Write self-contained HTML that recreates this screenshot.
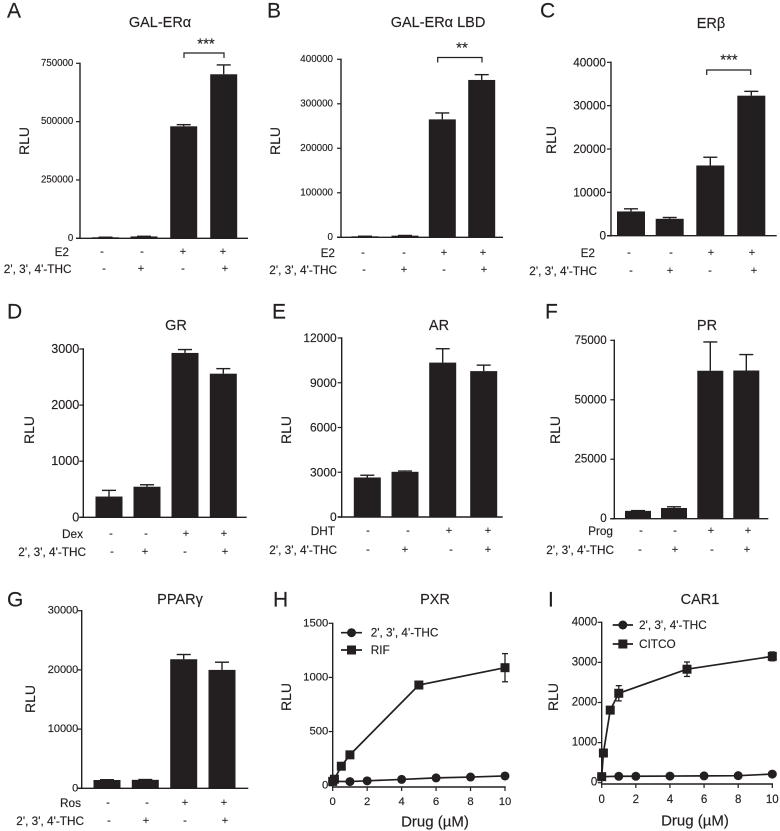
<!DOCTYPE html>
<html>
<head>
<meta charset="utf-8">
<title>Nuclear receptor reporter assays</title>
<style>
html,body{margin:0;padding:0;background:#fff;}
svg{display:block;filter:blur(0.35px);}
text{font-family:"Liberation Sans",sans-serif;fill:#231f20;stroke:#231f20;stroke-width:0.15px;}
</style>
</head>
<body>
<svg id="figure" width="780" height="831" viewBox="0 0 780 831" xmlns="http://www.w3.org/2000/svg"></svg>
<script>
// ---- chart data ----
const groupSigns1 = ['-', '-', '+', '+'];
const groupSigns2 = ['-', '+', '-', '+'];

const aValues = [4300, 8000, 480000, 703000];
const aErrorTops = [4600, 8600, 487000, 743000];
const aTicks = [0, 250000, 500000, 750000];

const bValues = [2200, 3700, 265000, 353600];
const bErrorTops = [2400, 4100, 279400, 365500];
const bTicks = [0, 100000, 200000, 300000, 400000];

const cValues = [5600, 3900, 16200, 32300];
const cErrorTops = [6200, 4200, 18100, 33300];
const cTicks = [0, 10000, 20000, 30000, 40000];

const dValues = [370, 545, 2930, 2560];
const dErrorTops = [480, 580, 2990, 2650];
const dTicks = [0, 1000, 2000, 3000];

const eValues = [2650, 3030, 10350, 9780];
const eErrorTops = [2800, 3080, 11280, 10180];
const eTicks = [0, 3000, 6000, 9000, 12000];

const fValues = [3300, 4500, 62200, 62300];
const fErrorTops = [3400, 5000, 74300, 69000];
const fTicks = [0, 25000, 50000, 75000];

const gValues = [1400, 1430, 21800, 20000];
const gErrorTops = [1450, 1480, 22600, 21300];
const gTicks = [0, 10000, 20000, 30000];

const drugTicks = [0, 2, 4, 6, 8, 10];

const hThcDoses = [0, 1, 2, 4, 6, 8, 10];
const hThcValues = [40, 38, 45, 58, 72, 80, 90];
const hThcErrors = [8, 8, 8, 10, 10, 10, 12];
const hRifDoses = [0, 0.1, 0.5, 1, 5, 10];
const hRifValues = [40, 60, 180, 285, 930, 1090];
const hRifErrors = [10, 10, 15, 30, 25, 130];
const hTicks = [0, 500, 1000, 1500];

const iThcDoses = [0, 1, 2, 4, 6, 8, 10];
const iThcValues = [150, 160, 160, 165, 170, 175, 215];
const iThcErrors = [20, 20, 20, 20, 20, 20, 30];
const iCitcoDoses = [0, 0.1, 0.5, 1, 5, 10];
const iCitcoValues = [150, 740, 1810, 2230, 2830, 3150];
const iCitcoErrors = [20, 40, 60, 190, 180, 110];
const iTicks = [0, 1000, 2000, 3000, 4000];

// ---- helpers ----
const NS = 'http://www.w3.org/2000/svg';
const root = document.getElementById('figure');
function make(tag, attrs, parent, content) {
  const el = document.createElementNS(NS, tag);
  for (const k in attrs) el.setAttribute(k, attrs[k]);
  if (content !== undefined) el.textContent = content;
  parent.appendChild(el);
  return el;
}
function rule(parent, x1, y1, x2, y2, w, name) {
  const el = make('line', {x1: x1, y1: y1, x2: x2, y2: y2, stroke: '#231f20', 'stroke-width': w}, parent);
  
  
  return el;
}
function label(parent, x, y, str, size, anchor, name) {
  const el = make('text', {x: x, y: y, 'font-size': size, 'text-anchor': anchor, 'dominant-baseline': 'central'}, parent, str);
  
  
  return el;
}
function panelFrame(c) {
  const g = make('g', {}, root);
  
  
  label(g, c.letter[0], c.letter[1], c.id.toUpperCase(), 21, 'start', 'panel-letter');
  label(g, c.title[0], c.title[1], c.titleText, 14.5, 'middle', 'panel-title');
  const yl = label(g, 0, 0, 'RLU', 14, 'middle', 'y-axis-title');
  yl.setAttribute('transform', 'translate(' + c.rlu[0] + ',' + c.rlu[1] + ') rotate(-90)');
  return g;
}
function yAxis(g, c, ticks, scale) {
  rule(g, c.axisX, scale(ticks[ticks.length - 1]) - 0.7, c.axisX, c.baseY + 0.7, 1.4, 'y-axis-line');
  ticks.forEach(function (t) {
    rule(g, c.axisX - 4, scale(t), c.axisX, scale(t), 1.2, 'y-tick');
    label(g, c.axisX - c.tickGap, scale(t), String(t), c.tickSize, 'end', 'y-tick-label');
  });
}

function barPanel(c) {
  const g = panelFrame(c);
  const max = c.ticks[c.ticks.length - 1];
  const y = function (v) { return c.baseY - (v / max) * (c.baseY - c.topY); };
  c.values.forEach(function (v, i) {
    const cx = c.centers[i];
    rule(g, cx, y(c.errorTops[i]), cx, y(v), 1.4, 'error-bar');
    rule(g, cx - 7, y(c.errorTops[i]), cx + 7, y(c.errorTops[i]), 1.4, 'error-cap');
    const bar = make('rect', {x: cx - c.barW / 2, y: y(v), width: c.barW, height: c.baseY - y(v), fill: '#231f20'}, g);
    
    
  });
  yAxis(g, c, c.ticks, y);
  rule(g, c.axisX - 4, c.baseY, c.endX, c.baseY, 1.4, 'x-axis-line');
  label(g, c.label1[0], c.row1Y, c.label1[1], 11.8, 'end', 'treatment-label');
  label(g, c.label2, c.row2Y, "2', 3', 4'-THC", 11.8, 'end', 'compound-label');
  groupSigns1.forEach(function (s, i) {
    label(g, c.row1X[i], c.row1Y, s, 11, 'middle', 'treatment-sign');
  });
  groupSigns2.forEach(function (s, i) {
    label(g, c.row2X[i], c.row2Y, s, 11, 'middle', 'compound-sign');
  });
  if (c.sig) {
    const s = c.sig;
    const br = make('path', {d: 'M' + s.x1 + ' ' + s.bottom + 'V' + s.top + 'H' + s.x2 + 'V' + s.bottom, fill: 'none', stroke: '#231f20', 'stroke-width': 1.2}, g);
    
    
    label(g, s.starX, s.starY, s.stars, 15, 'middle', 'significance-stars');
  }
}

function linePanel(c) {
  const g = panelFrame(c);
  const max = c.ticks[c.ticks.length - 1];
  const xMax = drugTicks[drugTicks.length - 1];
  const y = function (v) { return c.baseY - (v / max) * (c.baseY - c.topY); };
  const x = function (v) { return c.axisX + (v / xMax) * (c.x10 - c.axisX); };
  yAxis(g, c, c.ticks, y);
  rule(g, c.axisX - 0.7, c.xAxisY, c.x10 + 0.7, c.xAxisY, 1.4, 'x-axis-line');
  drugTicks.forEach(function (t) {
    rule(g, x(t), c.xAxisY, x(t), c.xAxisY + 4, 1.2, 'x-tick');
    label(g, x(t), c.xTickY, String(t), c.tickSize, 'middle', 'x-tick-label');
  });
  label(g, c.xTitle[0], c.xTitle[1], 'Drug (\u00b5M)', 15, 'middle', 'x-axis-title');
  c.series.forEach(function (s) {
    const sg = make('g', {}, g);
    
    
    const pts = s.doses.map(function (d, i) { return x(d) + ',' + y(s.values[i]); }).join(' ');
    const pl = make('polyline', {points: pts, fill: 'none', stroke: '#231f20', 'stroke-width': 1.7}, sg);
    
    
    s.doses.forEach(function (d, i) {
      const px = x(d), py = y(s.values[i]), e = s.errors[i];
      rule(sg, px, y(s.values[i] + e), px, y(s.values[i] - e), 1.3, 'error-bar');
      rule(sg, px - 3, y(s.values[i] + e), px + 3, y(s.values[i] + e), 1.3, 'error-cap');
      rule(sg, px - 3, y(s.values[i] - e), px + 3, y(s.values[i] - e), 1.3, 'error-cap');
      marker(sg, s.shape, px, py);
    });
  });
  c.legend.forEach(function (l) {
    const lg = make('g', {}, g);
    
    
    rule(lg, c.legendLine[0], l.y, c.legendLine[1], l.y, 1.7, 'legend-line');
    marker(lg, l.shape, (c.legendLine[0] + c.legendLine[1]) / 2, l.y);
    label(lg, c.legendText, l.y, l.text, 11.8, 'start', 'legend-label');
  });
}
function marker(parent, shape, x, y) {
  let el;
  if (shape === 'circle') {
    el = make('circle', {cx: x, cy: y, r: 4.5, fill: '#231f20'}, parent);
  } else {
    el = make('rect', {x: x - 4.5, y: y - 4.5, width: 9, height: 9, fill: '#231f20'}, parent);
  }
  
  
}

// ---- panels ----
barPanel({id: 'a', titleText: 'GAL-ER\u03b1', letter: [7, 11], title: [160, 23], rlu: [24, 141],
  values: aValues, errorTops: aErrorTops, ticks: aTicks, tickSize: 9.7, tickGap: 6.7,
  axisX: 80, topY: 63.3, baseY: 238.3, endX: 248, barW: 27, centers: [105.5, 144, 183.7, 223.7],
  label1: [69, 'E2'], label2: 71.5, row1Y: 252, row2Y: 269,
  row1X: [102, 142, 183, 223], row2X: [104, 141, 183, 225],
  sig: {x1: 184, x2: 224, top: 53, bottom: 58, stars: '***', starX: 206, starY: 44}});

barPanel({id: 'b', titleText: 'GAL-ER\u03b1 LBD', letter: [267, 11], title: [438, 23], rlu: [275, 141],
  values: bValues, errorTops: bErrorTops, ticks: bTicks, tickSize: 9.8, tickGap: 8,
  axisX: 341, topY: 59.3, baseY: 237.3, endX: 503, barW: 27, centers: [365, 405, 442.3, 481.7],
  label1: [335, 'E2'], label2: 337, row1Y: 253, row2Y: 270,
  row1X: [363, 404, 444, 483], row2X: [364, 404, 444, 484],
  sig: {x1: 437.7, x2: 482, top: 57.5, bottom: 62.5, stars: '**', starX: 462, starY: 48}});

barPanel({id: 'c', titleText: 'ER\u03b2', letter: [540, 11], title: [711, 24], rlu: [551, 140],
  values: cValues, errorTops: cErrorTops, ticks: cTicks, tickSize: 11.8, tickGap: 5,
  axisX: 611, topY: 62.3, baseY: 235.7, endX: 776.7, barW: 28, centers: [631, 669.7, 710.3, 751.3],
  label1: [595, 'E2'], label2: 597, row1Y: 253, row2Y: 271,
  row1X: [629, 671, 711, 752], row2X: [631, 670, 710, 754],
  sig: {x1: 706.7, x2: 750.7, top: 70, bottom: 75, stars: '***', starX: 729, starY: 60}});

barPanel({id: 'd', titleText: 'GR', letter: [7, 312], title: [176, 326], rlu: [29, 430],
  values: dValues, errorTops: dErrorTops, ticks: dTicks, tickSize: 12.6, tickGap: 4,
  axisX: 83.3, topY: 349, baseY: 517.3, endX: 246.7, barW: 27, centers: [109, 147, 185, 223.3],
  label1: [83, 'Dex'], label2: 86, row1Y: 534, row2Y: 552,
  row1X: [111, 146, 186, 224], row2X: [112, 145, 185, 225]});

barPanel({id: 'e', titleText: 'AR', letter: [272, 312], title: [439, 326], rlu: [286, 430],
  values: eValues, errorTops: eErrorTops, ticks: eTicks, tickSize: 12, tickGap: 5,
  axisX: 341.7, topY: 338, baseY: 517, endX: 502.7, barW: 27, centers: [367.3, 405, 442.7, 483.7],
  label1: [335, 'DHT'], label2: 337, row1Y: 531, row2Y: 550,
  row1X: [368, 408, 449, 488], row2X: [368, 405, 451, 488]});

barPanel({id: 'f', titleText: 'PR', letter: [545, 312], title: [707, 326], rlu: [555, 430],
  values: fValues, errorTops: fErrorTops, ticks: fTicks, tickSize: 11.6, tickGap: 7.6,
  axisX: 614.3, topY: 340.3, baseY: 518.7, endX: 768.3, barW: 26, centers: [638, 674, 710.3, 746.3],
  label1: [613, 'Prog'], label2: 614, row1Y: 531, row2Y: 550,
  row1X: [641, 675, 711, 748], row2X: [640, 675, 712, 747]});

barPanel({id: 'g', titleText: 'PPAR\u03b3', letter: [7, 600], title: [180, 600], rlu: [30, 699],
  values: gValues, errorTops: gErrorTops, ticks: gTicks, tickSize: 11, tickGap: 3.4,
  axisX: 81.7, topY: 610.7, baseY: 788.3, endX: 248.3, barW: 27, centers: [107, 145.3, 183.7, 222],
  label1: [81, 'Ros'], label2: 84, row1Y: 803, row2Y: 821,
  row1X: [108, 147, 185, 224], row2X: [109, 146, 185, 225]});

linePanel({id: 'h', titleText: 'PXR', letter: [273, 600], title: [435, 600], rlu: [286, 697],
  ticks: hTicks, tickSize: 11.3, tickGap: 4.4, axisX: 332.7, x10: 505, topY: 623.3, baseY: 785.7, xAxisY: 787, xTickY: 802,
  xTitle: [435, 822], legendLine: [341, 362], legendText: 370.7,
  legend: [{y: 632.7, shape: 'circle', text: "2', 3', 4'-THC"}, {y: 650, shape: 'square', text: 'RIF'}],
  series: [
    {name: 'rif', shape: 'square', doses: hRifDoses, values: hRifValues, errors: hRifErrors},
    {name: 'thc', shape: 'circle', doses: hThcDoses, values: hThcValues, errors: hThcErrors}
  ]});

linePanel({id: 'i', titleText: 'CAR1', letter: [548, 600], title: [700, 600], rlu: [553, 697],
  ticks: iTicks, tickSize: 11.5, tickGap: 4.4, axisX: 601.7, x10: 772.3, topY: 622.3, baseY: 782.7, xAxisY: 784, xTickY: 800,
  xTitle: [695, 821], legendLine: [612.7, 633], legendText: 639,
  legend: [{y: 625, shape: 'circle', text: "2', 3', 4'-THC"}, {y: 644, shape: 'square', text: 'CITCO'}],
  series: [
    {name: 'citco', shape: 'square', doses: iCitcoDoses, values: iCitcoValues, errors: iCitcoErrors},
    {name: 'thc', shape: 'circle', doses: iThcDoses, values: iThcValues, errors: iThcErrors}
  ]});
</script>
</body>
</html>
